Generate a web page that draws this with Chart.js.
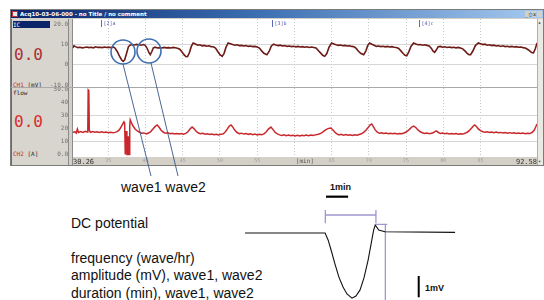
<!DOCTYPE html>
<html>
<head>
<meta charset="utf-8">
<script src="https://cdn.jsdelivr.net/npm/chart.js@4.4.1/dist/chart.umd.min.js"></script>
<style>
  body { margin: 0; width: 544px; height: 300px; background: #fff; position: relative; overflow: hidden;
         font-family: "Liberation Sans", Arial, sans-serif; color: #111; }
  .a { position: absolute; }
  .mono { font-family: "DejaVu Sans Mono", monospace; }
  .txt { font-size: 14px; line-height: 16px; white-space: nowrap; }
  canvas { position: absolute; z-index: 1; }
</style>
</head>
<body>
<!-- window chrome -->
<div class="a" style="left:10px;top:9px;width:534px;height:157px;background:#d4d0c8;border:1px solid #7b7b7b;box-sizing:border-box;"></div>
<div class="a" style="left:11px;top:10px;width:532px;height:8px;background:linear-gradient(to right,#0a246a,#3a6cb0 45%,#a6caf0);"></div>
<div class="a" style="left:12px;top:11px;width:6px;height:6px;background:#e8e8e8;border:1px solid #c03030;box-sizing:border-box;"></div>
<div class="a" style="left:20px;top:10px;color:#fff;font:bold 5.5px 'DejaVu Sans';line-height:8px;white-space:nowrap;">Acq10-03-06-000 - no Title / no comment</div>
<div class="a" style="left:525px;top:11px;width:5px;height:6px;background:#d4d0c8;"></div>
<div class="a" style="left:531px;top:11px;width:5px;height:6px;background:#d4d0c8;"></div>
<div class="a" style="left:537px;top:11px;width:5px;height:6px;background:#d4d0c8;"></div>
<div class="a mono" style="left:525px;top:10px;font-size:5px;line-height:8px;color:#000;letter-spacing:1px;">_□x</div>

<!-- left panel -->
<div class="a" style="left:11px;top:19px;width:57px;height:146px;background:#d8d5ce;border-left:1px solid #6c6c6c;box-sizing:border-box;"></div>
<div class="a mono" style="left:13px;top:21px;width:37px;height:7px;background:#0a246a;color:#fff;font-size:6px;line-height:7px;">IC</div>
<div class="a mono" style="left:14px;top:45px;font-size:16px;line-height:20px;color:#a83030;">0.0</div>
<div class="a mono" style="left:13px;top:81px;font-size:6px;line-height:7px;color:#222;white-space:pre;"><span style="color:#c03030">CH1</span> [mV]</div>
<div class="a mono" style="left:13px;top:89px;font-size:6px;line-height:7px;color:#222;">flow</div>
<div class="a mono" style="left:14px;top:112px;font-size:16px;line-height:20px;color:#d82c2c;">0.0</div>
<div class="a mono" style="left:13px;top:150px;font-size:6px;line-height:7px;color:#222;white-space:pre;"><span style="color:#c03030">CH2</span> [A]</div>

<!-- plot backgrounds -->
<div class="a" style="left:73px;top:19px;width:464px;height:138px;background:#fff;"></div>
<div class="a" style="left:73px;top:157px;width:464px;height:8px;background:#d4d0c8;"></div>
<div class="a" style="left:68px;top:19px;width:5px;height:146px;background:#d4d0c8;border-left:1px solid #8a8a8a;border-right:1px solid #8a8a8a;box-sizing:border-box;z-index:2;"></div>
<div class="a" style="left:11px;top:87px;width:526px;height:1px;background:#a8a8a8;z-index:2;"></div>
<div class="a" style="left:537px;top:19px;width:6px;height:146px;background:#ebe9e4;border-left:1px solid #b0b0b0;box-sizing:border-box;z-index:2;"></div>
<div class="a mono" style="left:538px;top:19px;font-size:5px;color:#333;z-index:2;">▴</div>
<div class="a mono" style="left:538px;top:158px;font-size:5px;color:#333;z-index:2;">▾</div>

<canvas id="ch1" width="487" height="68" style="left:50px;top:19px;"></canvas>
<canvas id="ch2" width="487" height="82" style="left:50px;top:84px;"></canvas>
<canvas id="dc" width="220" height="120" style="left:240px;top:180px;"></canvas>

<!-- annotations -->
<svg class="a" width="544" height="300" style="left:0;top:0;z-index:3;pointer-events:none;">
  <circle cx="123" cy="52" r="12" fill="none" stroke="#3f6fb0" stroke-width="1.6"/>
  <circle cx="149" cy="51" r="12" fill="none" stroke="#3f6fb0" stroke-width="1.6"/>
  <line x1="123" y1="64" x2="151" y2="176" stroke="#34568a" stroke-width="0.9"/>
  <line x1="151" y1="63" x2="178" y2="176" stroke="#34568a" stroke-width="0.9"/>
</svg>

<div class="a txt" style="left:121px;top:179px;">wave1 wave2</div>
<div class="a txt" style="left:71px;top:215px;">DC potential</div>
<div class="a txt" style="left:71px;top:250px;">frequency (wave/hr)</div>
<div class="a txt" style="left:71px;top:267px;">amplitude (mV), wave1, wave2</div>
<div class="a txt" style="left:71px;top:285px;">duration (min), wave1, wave2</div>
<div class="a" style="left:330px;top:182px;font:bold 9px 'Liberation Sans';white-space:nowrap;">1min</div>
<div class="a" style="left:425px;top:283px;font:bold 9px 'Liberation Sans';white-space:nowrap;">1mV</div>

<script>
// tick labels
const ch1Ticks = [20, 10, 0, -10];
const ch1TickLabels = ['20.0', '10', '0', '-10.0'];
const ch2Ticks = [50, 40, 30, 20, 10, 0];
const ch2TickLabels = ['50.0', '40', '30', '20', '10', '0.0'];
const minTicks = [30.26, 35, 40, 45, 50, 55, 60, 61.4, 65, 70, 75, 80, 85, 92.58];
const minTickLabels = ['30.26', '35', '40', '45', '50', '55', '', '[min]', '65', '70', '75', '80', '85', '92.58'];
const markerMin = [34.08, 57.0, 76.71];
const markerLabels = ['[2]a', '[3]b', '[4]c'];

// CH1 DC potential [min, mV]
const ch1 = [
  [30.26, 8.3], [30.4, 9.3], [30.6, 8.9], [30.9, 8.4], [31.2, 8.6], [31.5, 8.3], [31.8, 8.5], [32.1, 8.7],
  [32.4, 8.4], [32.7, 8.6], [33.0, 8.3], [33.3, 8.8], [33.6, 8.5], [33.9, 8.6], [34.2, 8.4], [34.5, 8.7],
  [34.8, 8.5], [35.1, 8.6], [35.4, 8.4], [35.7, 8.7], [35.9, 8.2], [36.2, 6.5], [36.5, 4.2], [36.8, 2.3],
  [37.0, 1.6], [37.2, 2.4], [37.45, 5.5], [37.7, 8.8], [37.9, 9.6], [38.2, 9.9], [38.5, 9.7], [38.8, 10.0],
  [39.1, 9.8], [39.4, 9.6], [39.7, 9.9], [39.95, 9.5], [40.2, 8.2], [40.45, 6.0], [40.64, 4.9], [40.85, 6.5],
  [41.05, 8.3], [41.3, 8.6], [41.6, 8.2], [41.9, 8.4], [42.2, 8.2], [42.5, 8.5], [42.8, 8.3], [43.1, 8.4],
  [43.4, 8.2], [43.7, 8.5], [44.0, 8.3], [44.3, 8.1], [44.6, 7.6], [44.9, 6.2], [45.2, 4.8], [45.45, 3.9],
  [45.65, 4.0], [45.9, 6.0], [46.15, 9.0], [46.4, 10.7], [46.7, 10.2], [47.0, 9.6], [47.3, 9.8], [47.6, 9.3],
  [47.9, 9.5], [48.2, 9.1], [48.5, 9.3], [48.8, 8.9], [49.1, 8.8], [49.4, 8.2], [49.7, 6.5], [50.0, 4.9],
  [50.3, 4.1], [50.55, 5.6], [50.8, 8.5], [51.1, 10.7], [51.4, 10.3], [51.7, 9.9], [52.0, 9.6], [52.3, 9.8],
  [52.6, 9.4], [52.9, 9.5], [53.2, 9.2], [53.5, 9.4], [53.8, 9.0], [54.1, 9.2], [54.4, 8.9], [54.7, 9.0],
  [55.0, 8.7], [55.3, 8.2], [55.6, 6.8], [55.9, 5.6], [56.3, 4.9], [56.6, 6.5], [56.9, 9.2], [57.2, 10.1],
  [57.5, 9.7], [57.8, 9.4], [58.1, 9.6], [58.4, 9.2], [58.7, 9.4], [59.0, 9.0], [59.3, 9.2], [59.6, 8.9],
  [59.9, 9.1], [60.2, 8.8], [60.5, 9.0], [60.8, 8.7], [61.1, 8.9], [61.4, 8.6], [61.7, 8.8], [62.0, 8.5],
  [62.3, 8.7], [62.6, 8.5], [62.9, 8.2], [63.2, 7.0], [63.5, 5.8], [63.8, 4.6], [64.07, 4.1], [64.35, 5.5],
  [64.65, 8.6], [65.0, 10.7], [65.3, 10.2], [65.6, 9.8], [65.9, 9.5], [66.2, 9.7], [66.5, 9.3], [66.8, 9.5],
  [67.1, 9.2], [67.4, 9.3], [67.7, 9.0], [68.0, 8.8], [68.3, 8.0], [68.6, 6.6], [68.9, 5.6], [69.3, 4.9],
  [69.6, 6.8], [69.85, 9.5], [70.1, 10.7], [70.4, 10.1], [70.7, 9.6], [71.0, 9.0], [71.3, 9.2], [71.6, 8.9],
  [71.9, 9.1], [72.2, 8.8], [72.5, 9.0], [72.8, 8.7], [73.1, 8.9], [73.4, 8.6], [73.7, 8.5], [74.0, 8.0],
  [74.3, 6.8], [74.6, 5.5], [74.85, 4.6], [75.08, 4.4], [75.35, 6.2], [75.65, 9.0], [76.0, 10.7], [76.3, 10.2],
  [76.6, 9.8], [76.9, 9.9], [77.2, 9.6], [77.5, 9.8], [77.8, 9.5], [78.1, 9.2], [78.4, 8.0], [78.6, 6.8],
  [78.83, 6.1], [79.05, 7.2], [79.3, 8.8], [79.6, 9.0], [79.9, 8.6], [80.2, 8.8], [80.5, 8.5], [80.8, 8.7],
  [81.1, 8.4], [81.4, 8.6], [81.7, 8.3], [82.0, 8.5], [82.3, 8.2], [82.6, 7.8], [82.9, 6.8], [83.2, 5.6],
  [83.45, 4.9], [83.66, 4.9], [83.95, 6.6], [84.3, 9.4], [84.7, 10.7], [85.0, 10.3], [85.3, 9.9], [85.6, 10.1],
  [85.9, 9.6], [86.2, 9.8], [86.5, 9.4], [86.8, 9.6], [87.1, 9.2], [87.4, 9.4], [87.7, 9.0], [88.0, 9.3],
  [88.3, 8.9], [88.6, 9.1], [88.9, 8.8], [89.2, 9.0], [89.5, 8.7], [89.8, 8.9], [90.1, 8.6], [90.4, 8.7],
  [90.7, 8.4], [91.0, 8.2], [91.3, 7.6], [91.6, 6.8], [91.85, 6.0], [92.11, 5.8], [92.35, 7.8], [92.58, 10.7]
];

// CH2 flow [min, value]
const ch2 = [
  [30.26, 16.8], [30.5, 17.5], [30.7, 16.4], [30.85, 19.5], [31.0, 16.8], [31.3, 17.6], [31.6, 16.9], [31.9, 17.8],
  [32.15, 17.2], [32.25, 20.0], [32.3, 49.5], [32.38, 49.0], [32.45, 18.5], [32.6, 17.0], [32.9, 17.6], [33.2, 17.0],
  [33.5, 17.4], [33.8, 16.9], [34.1, 17.3], [34.4, 16.8], [34.7, 17.1], [35.0, 16.7], [35.3, 17.0], [35.6, 16.6],
  [35.9, 16.9], [36.2, 17.5], [36.5, 19.0], [36.8, 22.0], [37.1, 25.0], [37.2, 24.0], [37.28, 0], [37.35, 0],
  [37.42, 18.0], [37.5, 0], [37.58, 0], [37.65, 14.0], [37.72, 0], [37.8, 0], [37.88, 22.0], [37.95, 26.5],
  [38.1, 24.5], [38.3, 22.0], [38.6, 19.5], [38.9, 18.0], [39.2, 17.0], [39.5, 16.2], [39.8, 16.5], [40.1, 15.8],
  [40.4, 16.4], [40.7, 17.5], [41.0, 19.5], [41.3, 21.5], [41.57, 22.6], [41.8, 21.0], [42.1, 18.6], [42.4, 17.0],
  [42.7, 16.2], [43.0, 16.6], [43.3, 15.9], [43.6, 16.3], [43.9, 15.7], [44.2, 16.1], [44.5, 15.6], [44.8, 16.0],
  [45.1, 15.5], [45.4, 16.1], [45.7, 17.4], [46.0, 19.6], [46.26, 21.0], [46.5, 19.8], [46.8, 17.8], [47.1, 16.4],
  [47.4, 15.8], [47.7, 16.2], [48.0, 15.5], [48.3, 15.9], [48.6, 15.3], [48.9, 15.7], [49.2, 15.1], [49.5, 15.5],
  [49.8, 15.0], [50.1, 15.4], [50.4, 15.6], [50.7, 17.2], [51.0, 19.6], [51.25, 21.8], [51.49, 22.6], [51.75, 20.8],
  [52.0, 18.5], [52.3, 16.8], [52.6, 15.9], [52.9, 16.3], [53.2, 15.6], [53.5, 16.0], [53.8, 15.4], [54.1, 15.8],
  [54.4, 15.2], [54.7, 15.6], [55.0, 15.0], [55.3, 15.4], [55.6, 15.1], [55.9, 15.8], [56.2, 17.2], [56.5, 19.4],
  [56.85, 21.0], [57.1, 19.2], [57.4, 17.0], [57.7, 15.8], [58.0, 15.0], [58.3, 14.6], [58.6, 15.0], [58.9, 14.4],
  [59.2, 14.8], [59.5, 14.3], [59.8, 14.7], [60.1, 14.2], [60.4, 14.6], [60.7, 14.2], [61.0, 14.7], [61.3, 14.3],
  [61.6, 14.8], [61.9, 14.4], [62.2, 14.9], [62.5, 14.5], [62.8, 15.0], [63.1, 15.2], [63.4, 15.8], [63.7, 16.8],
  [64.0, 18.0], [64.3, 19.2], [64.6, 20.0], [64.89, 20.3], [65.15, 19.0], [65.4, 17.2], [65.7, 15.8], [66.0, 15.0],
  [66.3, 15.4], [66.6, 14.8], [66.9, 15.2], [67.2, 14.7], [67.5, 15.1], [67.8, 14.6], [68.1, 15.0], [68.4, 14.7],
  [68.7, 15.3], [69.0, 15.8], [69.3, 16.9], [69.6, 18.6], [69.9, 20.6], [70.15, 22.5], [70.39, 23.4], [70.6, 21.4],
  [70.85, 18.8], [71.1, 17.2], [71.4, 16.2], [71.7, 16.6], [72.0, 16.0], [72.3, 16.4], [72.6, 15.9], [72.9, 16.3],
  [73.2, 15.8], [73.5, 16.2], [73.8, 15.7], [74.1, 16.1], [74.4, 15.8], [74.7, 16.4], [75.0, 17.2], [75.3, 18.4],
  [75.55, 19.8], [75.8, 21.2], [76.02, 21.8], [76.3, 20.6], [76.6, 18.8], [76.9, 17.4], [77.2, 16.6], [77.5, 16.0],
  [77.8, 16.4], [78.1, 15.8], [78.4, 16.2], [78.7, 16.8], [78.95, 17.8], [79.1, 18.0], [79.3, 17.0], [79.6, 16.0],
  [79.9, 16.4], [80.2, 15.8], [80.5, 16.2], [80.8, 15.7], [81.1, 16.1], [81.4, 15.6], [81.7, 16.0], [82.0, 15.5],
  [82.3, 15.9], [82.6, 15.6], [82.9, 16.2], [83.2, 17.0], [83.5, 18.4], [83.8, 20.2], [84.0, 21.6], [84.2, 22.6],
  [84.45, 21.4], [84.7, 19.6], [85.0, 18.2], [85.3, 17.4], [85.6, 17.0], [85.9, 17.4], [86.2, 16.8], [86.5, 17.2],
  [86.8, 16.7], [87.1, 17.1], [87.4, 16.6], [87.7, 16.9], [88.0, 16.4], [88.3, 16.8], [88.6, 16.3], [88.9, 16.7],
  [89.2, 16.2], [89.5, 16.6], [89.8, 16.1], [90.1, 16.5], [90.4, 16.0], [90.7, 16.4], [91.0, 15.9], [91.3, 16.3],
  [91.6, 16.0], [91.9, 16.8], [92.2, 18.5], [92.4, 21.0], [92.58, 23.4]
];

// schematic wave (min, mV), bracket and scale bars
const dcMin = [0.22, 3.70, 3.83, 3.96, 4.13, 4.30, 4.48, 4.65, 4.87, 5.04, 5.22, 5.39, 5.57, 5.70, 5.81, 5.88, 6.03, 6.30, 9.35];
const dcMv  = [0, 0, -0.33, -0.81, -1.48, -2.10, -2.57, -2.90, -3.10, -3.00, -2.71, -2.14, -1.29, -0.52, 0.14, 0.38, 0.14, 0.06, 0.03];
const durationBracket = [[3.71, 1.095], [3.71, 0.462], [3.71, null], [3.71, 0.857], [5.91, 0.857], [5.91, null], [5.91, 1.095], [5.91, 0.462]];
const amplitudeLine = [[5.91, 0.414], [6.40, 0.414], [6.40, null], [6.32, 0.414], [6.32, -3.4]];
const minBar = [[3.74, 1.73], [4.70, 1.73]];
const mvBar = [[7.77, -2.05], [7.77, -3.06]];

const xy = arr => arr.map(p => ({ x: p[0], y: p[1] }));
const hidden = 'rgba(0,0,0,0)';

function minAxis(showLabels) {
  return {
    type: 'linear', min: 30.26, max: 92.58,
    afterBuildTicks: s => { s.ticks = minTicks.map(v => ({ value: v })); },
    afterFit: s => { s.height = showLabels ? 9 : 0; s.paddingLeft = 0; s.paddingRight = 0; },
    grid: { color: c => (c.tick && c.tick.value % 5 === 0) ? '#c6c6c6' : hidden, drawTicks: false },
    border: { display: false, dash: [1, 2] },
    ticks: {
      display: showLabels, autoSkip: false, maxRotation: 0, align: 'inner', padding: 1,
      color: c => (c.index === 0 || c.index === minTicks.length - 1) ? '#333' : (minTickLabels[c.index] === '[min]' ? '#555' : '#a0a0a0'),
      font: c => ({ family: 'DejaVu Sans Mono', size: (c.index === 0 || c.index === minTicks.length - 1) ? 7 : (minTickLabels[c.index] === '[min]' ? 6 : 5) }),
      callback: (v, i) => minTickLabels[i]
    }
  };
}

function valueAxis(min, max, ticks, labels, gridAt) {
  return {
    min: min, max: max,
    afterBuildTicks: s => { s.ticks = ticks.map(v => ({ value: v })); },
    afterFit: s => { s.width = 23; s.paddingTop = 0; s.paddingBottom = 0; },
    grid: { color: c => (c.tick && gridAt.includes(c.tick.value)) ? '#d6d6d6' : hidden, drawTicks: false },
    border: { display: false },
    ticks: { padding: 5, color: '#707070', font: { family: 'DejaVu Sans Mono', size: 6 }, callback: (v, i) => labels[i] }
  };
}

const markerPlugin = {
  id: 'markers',
  afterDatasetsDraw(chart) {
    const { ctx, chartArea, scales } = chart;
    ctx.save();
    ctx.font = '5px "DejaVu Sans Mono"';
    ctx.fillStyle = '#4b5aa6';
    ctx.strokeStyle = '#5b6ab6';
    markerMin.forEach((m, i) => {
      const px = Math.round(scales.x.getPixelForValue(m)) + 0.5;
      ctx.beginPath(); ctx.moveTo(px, chartArea.top + 1); ctx.lineTo(px, chartArea.top + 8); ctx.stroke();
      ctx.fillText(markerLabels[i], px + 2, chartArea.top + 6);
    });
    ctx.restore();
  }
};

const common = { responsive: false, animation: false, devicePixelRatio: 1,
  plugins: { legend: { display: false }, tooltip: { enabled: false } } };

new Chart(document.getElementById('ch1'), {
  type: 'line',
  data: { datasets: [{ data: xy(ch1), borderColor: '#6e1a17', borderWidth: 1.6, pointRadius: 0, tension: 0 }] },
  options: { ...common, layout: { padding: 0 },
    scales: { x: minAxis(false), y: valueAxis(-11, 22.5, ch1Ticks, ch1TickLabels, [10, 0]) } },
  plugins: [markerPlugin]
});

new Chart(document.getElementById('ch2'), {
  type: 'line',
  data: { datasets: [{ data: xy(ch2), borderColor: '#c8282c', borderWidth: 1.5, pointRadius: 0, tension: 0 }] },
  options: { ...common, layout: { padding: { top: 4 } },
    scales: { x: minAxis(true), y: valueAxis(-2, 51, ch2Ticks, ch2TickLabels, [30, 10]) } }
});

const seg = (data, color, width) => ({ data: xy(data), borderColor: color, borderWidth: width, pointRadius: 0, showLine: true, spanGaps: false });

new Chart(document.getElementById('dc'), {
  type: 'scatter',
  data: { datasets: [
    seg(dcMin.map((m, i) => [m, dcMv[i]]), '#111', 1.1),
    seg(durationBracket, '#a395cf', 1.3),
    seg(amplitudeLine, '#a395cf', 1.3),
    seg(minBar, '#000', 2.2),
    seg(mvBar, '#000', 2)
  ] },
  options: { ...common, layout: { padding: 0 },
    scales: { x: { type: 'linear', display: false, min: 0, max: 9.565 },
              y: { type: 'linear', display: false, min: -3.19, max: 2.524 } } }
});
</script>
</body>
</html>
